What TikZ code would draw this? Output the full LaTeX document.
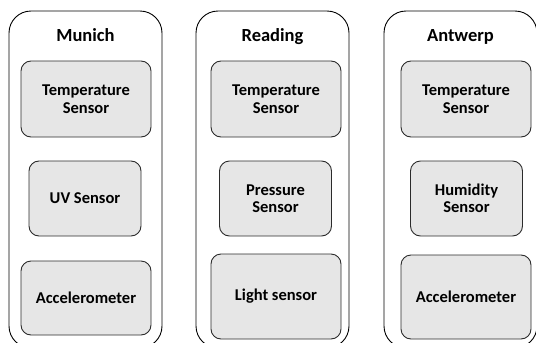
\documentclass[tikz,border=0pt]{standalone}
\usepackage{fontspec}
\setmainfont{Carlito}
\definecolor{sensorgray}{HTML}{E6E6E6}
\definecolor{edgegray}{HTML}{2B2B2B}

\begin{document}
\begin{tikzpicture}[x=1pt,y=-1pt,
  city/.style={draw=black,line width=0.9pt,rounded corners=22pt,
    minimum width=153pt,minimum height=337pt,inner sep=0pt},
  title/.style={anchor=base,font=\fontsize{18.5}{20}\selectfont\bfseries},
  sensor/.style={draw=edgegray,fill=sensorgray,line width=0.9pt,
    rounded corners=10pt,align=center,inner sep=0pt,
    font=\fontsize{16.5}{17.5}\selectfont\bfseries},
  wide/.style={sensor,minimum width=130pt},
  narrow/.style={sensor,minimum width=112pt}]
  \useasboundingbox (0,0) rectangle (536,343);
  \clip (0,0) rectangle (536,343);
  % cities
  \foreach \name/\x/\city in {mun/85.5/Munich,rea/272.5/Reading,ant/460.5/Antwerp}{
    \node[city] (\name) at (\x,179.5) {};
    \node[title] (\name-title) at (\x,41) {\city};
  }
  % Munich
  \node[wide,minimum height=76pt] (mun-temp) at (86,99) {Temperature\\Sensor};
  \node[narrow,minimum height=75pt] (mun-uv) at (85,198.5) {UV Sensor};
  \node[wide,minimum height=74pt] (mun-acc) at (86,298) {Accelerometer};
  % Reading
  \node[wide,minimum height=76pt] (rea-temp) at (276,99) {Temperature\\Sensor};
  \node[narrow,minimum height=75pt] (rea-press) at (275.5,198.5) {Pressure\\Sensor};
  \node[wide,minimum height=85pt] (rea-light) at (276,296.5) {Light sensor};
  % Antwerp
  \node[wide,minimum height=76pt] (ant-temp) at (466,99) {Temperature\\Sensor};
  \node[narrow,minimum height=75pt] (ant-hum) at (466.5,198.5) {Humidity\\Sensor};
  \node[wide,minimum height=84pt] (ant-acc) at (466,297) {Accelerometer};
\end{tikzpicture}
\end{document}
